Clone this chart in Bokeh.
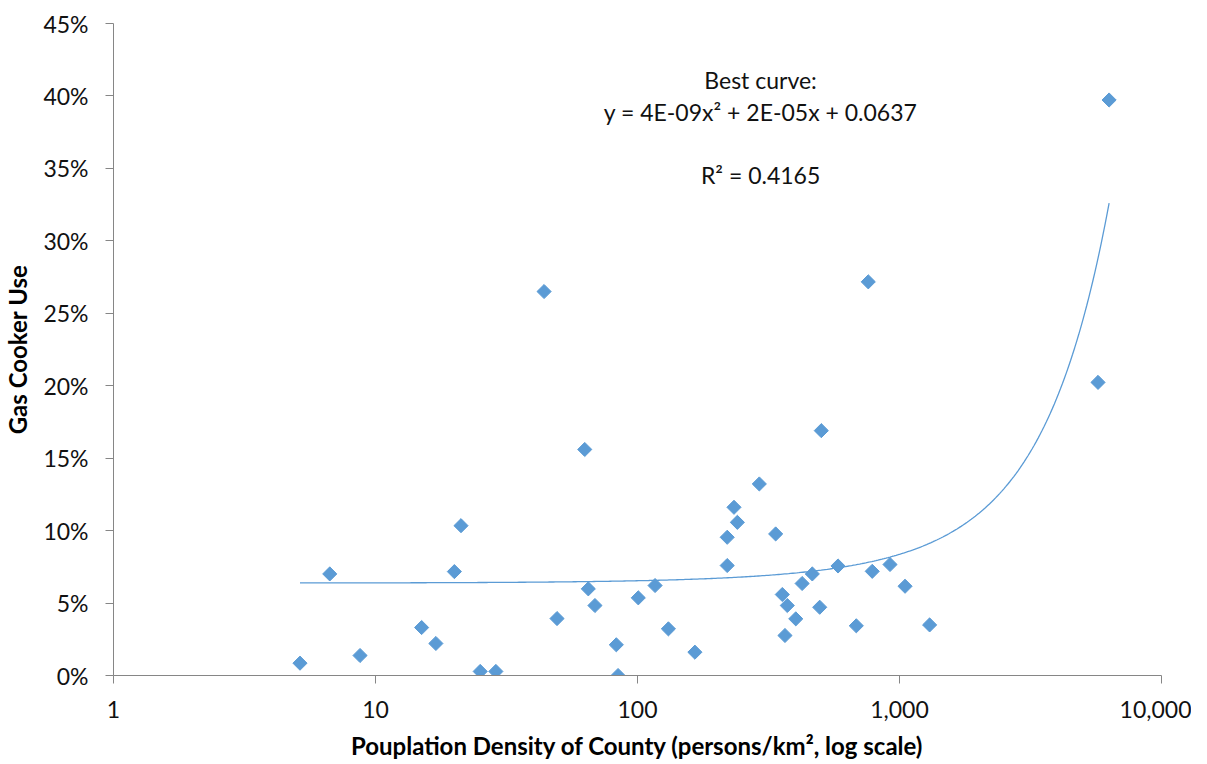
import numpy as np
from bokeh.plotting import figure
from bokeh.models import ColumnDataSource, NumeralTickFormatter, FixedTicker, Label, Range1d
from bokeh.embed import file_html
from bokeh.resources import INLINE

# Population density (persons/km^2)
density = [5.15, 6.69, 8.73, 15.0, 17.0, 20.0, 21.2, 25.1, 28.8, 44.0,
           49.3, 62.9, 64.9, 68.8, 83.0, 84.3, 100.7, 116.7, 131.2, 165.6,
           220, 220, 233.5, 240.5, 291.7, 336.8, 357, 365.5, 373, 401.9,
           425, 464.7, 496, 503, 582.6, 684, 760, 787, 920, 1050,
           1303, 5724, 6310]
# Gas cooker use (fraction)
gas_use = [0.0085, 0.0701, 0.0138, 0.0331, 0.0221, 0.0717, 0.1034, 0.0028, 0.0028, 0.2650,
           0.0393, 0.1560, 0.0598, 0.0483, 0.0212, 0.0000, 0.0536, 0.0621, 0.0322, 0.0161,
           0.0759, 0.0954, 0.1161, 0.1057, 0.1322, 0.0977, 0.0559, 0.0276, 0.0483, 0.0391,
           0.0635, 0.0701, 0.0471, 0.1690, 0.0756, 0.0343, 0.2717, 0.0719, 0.0766, 0.0616,
           0.0349, 0.2023, 0.3972]

x_ticks = [1, 10, 100, 1000, 10000]
y_ticks = [0.0, 0.05, 0.10, 0.15, 0.20, 0.25, 0.30, 0.35, 0.40, 0.45]

annotation_lines = ["Best curve:", "y = 4E-09x\u00b2 + 2E-05x + 0.0637", "R\u00b2 = 0.4165"]

BLUE = "#5B9BD5"
AXIS = "#868686"
FONT = "Lato"

p = figure(frame_width=1048, frame_height=652, x_axis_type="log", output_backend="svg",
           toolbar_location=None, x_range=Range1d(1, 10000), y_range=Range1d(0, 0.45),
           min_border_left=107, min_border_right=30, min_border_top=23, min_border_bottom=80)
p.outline_line_color = None
p.xgrid.visible = False
p.ygrid.visible = False

src = ColumnDataSource(dict(x=density, y=gas_use))

# quadratic trendline fitted to the data (as Excel does)
coef = np.polyfit(np.array(density), np.array(gas_use), 2)
xf = np.logspace(np.log10(min(density)), np.log10(max(density)), 400)
yf = np.polyval(coef, xf)
p.line(xf, yf, line_color=BLUE, line_width=1.3)

p.scatter("x", "y", source=src, marker="square", angle=np.pi / 4, size=10,
          fill_color=BLUE, line_color=BLUE)

for ax in (p.xaxis[0], p.yaxis[0]):
    ax.axis_line_color = AXIS
    ax.major_tick_line_color = AXIS
    ax.minor_tick_line_color = None
    ax.major_tick_out = 8
    ax.major_tick_in = 0
    ax.major_label_text_font = FONT
    ax.major_label_text_font_size = "23px"
    ax.major_label_text_color = "#111111"
    ax.axis_label_text_font = FONT
    ax.axis_label_text_font_size = "24px"
    ax.axis_label_text_font_style = "bold"
    ax.axis_label_text_color = "#000000"

p.xaxis.ticker = FixedTicker(ticks=x_ticks)
p.xaxis.formatter = NumeralTickFormatter(format="0,0")
p.xaxis.axis_label = "Pouplation Density of County (persons/km\u00b2, log scale)"
p.xaxis.major_label_standoff = 17
p.xaxis.axis_label_standoff = 10

p.yaxis.ticker = FixedTicker(ticks=y_ticks)
p.yaxis.formatter = NumeralTickFormatter(format="0%")
p.yaxis.axis_label = "Gas Cooker Use"
p.yaxis.major_label_standoff = 17
p.yaxis.axis_label_standoff = 8

label_x = 295
label_y = [0.4110, 0.3888, 0.3451]
for txt, yy in zip(annotation_lines, label_y):
    p.add_layout(Label(x=label_x, y=yy, text=txt, text_align="center",
                       text_baseline="alphabetic", text_font=FONT,
                       text_font_size="23px", text_color="#111111"))

open("out.html", "w").write(file_html(p, INLINE))
